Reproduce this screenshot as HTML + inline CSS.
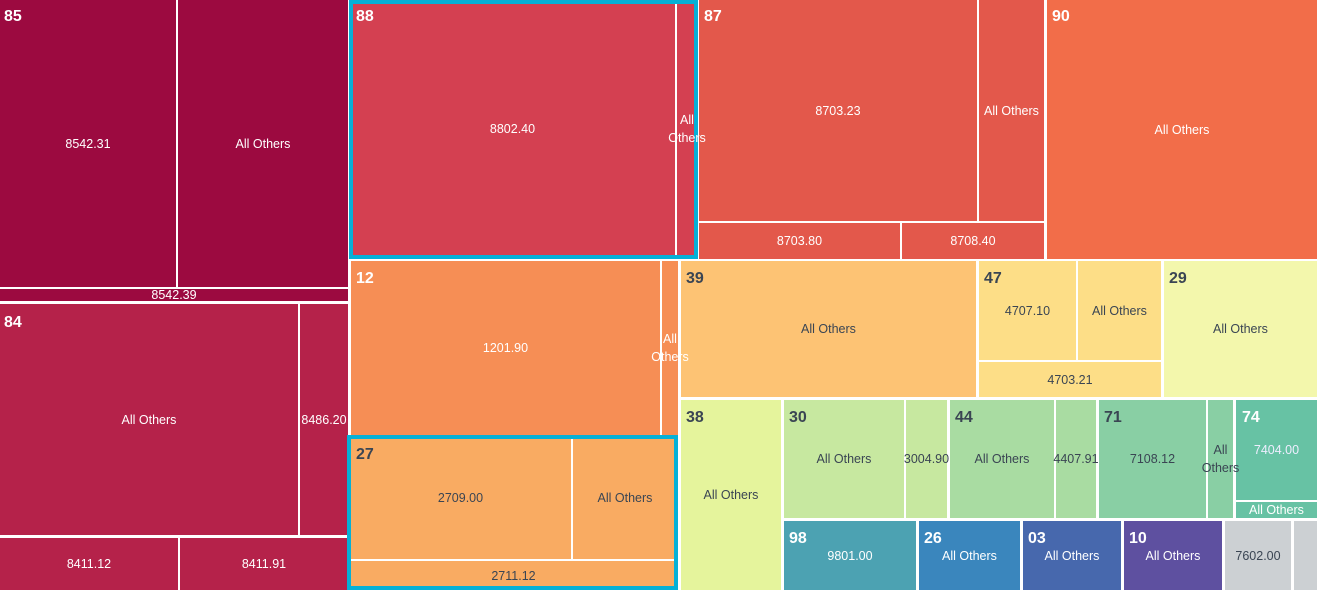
<!DOCTYPE html>
<html><head><meta charset="utf-8"><style>
body{margin:0;width:1317px;height:590px;overflow:hidden;background:#fff;position:relative;font-family:"Liberation Sans",sans-serif}
.r{position:absolute;display:flex;align-items:center;justify-content:center;text-align:center;font-size:12.5px;line-height:18px;overflow:visible}
.r span{position:relative;z-index:5}
.h{position:absolute;font-size:16px;font-weight:bold;z-index:6}
.c{position:absolute;border:4px solid #06b0d6;box-sizing:border-box;z-index:4}
</style></head><body>
<div id="root"></div>
<script>
const W='#fff',D='#3a4553';
const L=[
[0,0,176,287,'#9c0a40','8542.31',W],[178,0,348,287,'#9c0a40','All Others',W],[0,289,348,301,'#9c0a40','8542.39',W],
[0,304,298,535,'#b5224a','All Others',W],[300,304,348,535,'#b5224a','8486.20',W],[0,538,178,590,'#b5224a','8411.12',W],[180,538,348,590,'#b5224a','8411.91',W],
[350,0,675,258,'#d44051','8802.40',W],[677,0,697,258,'#d44051','All Others',W],
[699,0,977,221,'#e3584b','8703.23',W],[979,0,1044,221,'#e3584b','All Others',W],[699,223,900,259,'#e3584b','8703.80',W],[902,223,1044,259,'#e3584b','8708.40',W],
[1047,0,1317,259,'#f26d49','All Others',W],
[351,261,660,435,'#f68e55','1201.90',W],[662,261,678,435,'#f68e55','All Others',W],
[350,436,571,559,'#f9ab62','2709.00',D],[573,436,677,559,'#f9ab62','All Others',D],[350,561,677,590,'#f9ab62','2711.12',D],
[681,261,976,397,'#fdc374','All Others',D],
[979,261,1076,360,'#fdde87','4707.10',D],[1078,261,1161,360,'#fdde87','All Others',D],[979,362,1161,397,'#fdde87','4703.21',D],
[1164,261,1317,397,'#f3f7ac','All Others',D],
[681,400,781,590,'#e5f49c','All Others',D],
[784,400,904,518,'#c7e8a0','All Others',D],[906,400,947,518,'#c7e8a0','3004.90',D],
[950,400,1054,518,'#a9dca2','All Others',D],[1056,400,1096,518,'#a9dca2','4407.91',D],
[1099,400,1206,518,'#89cfa4','7108.12',D],[1208,400,1233,518,'#89cfa4','All Others',D],
[1236,400,1317,500,'#67c2a4','7404.00','#eef'],[1236,502,1317,518,'#67c2a4','All Others',W],
[784,521,916,590,'#4ca2b2','9801.00',W],[919,521,1020,590,'#3a86bd','All Others',W],[1023,521,1121,590,'#4768ad','All Others',W],[1124,521,1222,590,'#5e50a0','All Others',W],
[1225,521,1291,590,'#ccd0d3','7602.00',D],[1294,521,1317,590,'#ccd0d3','',D]];
const H=[[4,8,'85',W],[4,314,'84',W],[356,8,'88',W],[704,8,'87',W],[1052,8,'90',W],[356,270,'12',W],[356,446,'27',D],[686,270,'39',D],[984,270,'47',D],[1169,270,'29',D],[686,409,'38',D],[789,409,'30',D],[955,409,'44',D],[1104,409,'71',D],[1242,409,'74',W],[789,530,'98',W],[924,530,'26',W],[1028,530,'03',W],[1129,530,'10',W]];
let s='';
for(const[a,b,c,d,bg,t,col] of L){s+=`<div class="r" style="left:${a}px;top:${b}px;width:${c-a}px;height:${d-b}px;background:${bg};color:${col}"><span>${t}</span></div>`}
s+='<div class="c" style="left:349px;top:0;width:349px;height:259px"></div>';
s+='<div class="c" style="left:347px;top:435px;width:331px;height:155px"></div>';
for(const[x,y,t,col] of H){s+=`<div class="h" style="left:${x}px;top:${y}px;color:${col}">${t}</div>`}
document.getElementById('root').innerHTML=s;
</script>
</body></html>
